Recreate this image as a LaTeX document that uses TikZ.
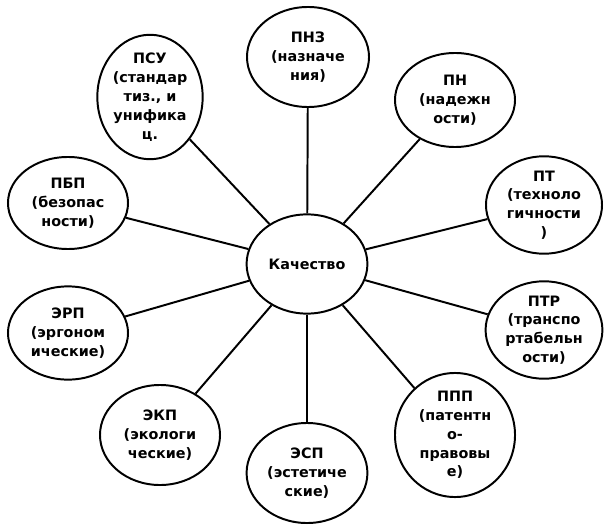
\documentclass[tikz,border=0pt]{standalone}
\usepackage{fontspec}
\setmainfont{DejaVu Sans}
\usetikzlibrary{shapes.geometric}

\tikzset{
	bubble/.style={ellipse, draw=black, line width=1.4pt, fill=white, inner sep=0pt,
		minimum width=3cm, minimum height=2.5cm, align=center,
		font=\fontsize{10.2}{13.4}\selectfont\bfseries},
	spoke/.style={line width=1.4pt}
}

\begin{document}
\begin{tikzpicture}[x=0.025cm, y=-0.025cm]
		\useasboundingbox[fill=white] (0, 0) rectangle (604, 525);

		\node[bubble, minimum width=3.02cm, minimum height=2.48cm] (q) at (307, 264) {Качество};

		\node[bubble, minimum width=3.05cm] (pnz) at (308, 57) {ПНЗ\\(назначе\\ния)};
		\node[bubble, minimum width=2.5cm, minimum height=2.62cm] (psu) at (150, 97) {ПСУ\\(стандар\\тиз., и\\унифика\\ц.};
		\node[bubble, minimum height=2.3cm] (pbp) at (68, 203) {ПБП\\(безопас\\ности)};
		\node[bubble, minimum height=2.33cm] (erp) at (68, 333) {ЭРП\\(эргоном\\ические)};
		\node[bubble] (ekp) at (160, 435) {ЭКП\\(экологи\\ческие)};
		\node[bubble, minimum width=3.02cm] (esp) at (307, 473) {ЭСП\\(эстетиче\\ские)};
		\node[bubble] (ppp) at (455, 435) {ППП\\(патентн\\о-\\правовы\\е)};
		\node[bubble, minimum width=2.92cm, minimum height=2.33cm] (ptr) at (544, 330) {ПТР\\(транспо\\ртабельн\\ости)};
		\node[bubble, minimum width=2.9cm, minimum height=2.25cm] (pt) at (544, 205) {ПТ\\(техноло\\гичности\\)};
		\node[bubble, minimum height=2.35cm] (pn) at (455, 100) {ПН\\(надежн\\ости)};

		% spokes from the centre
		\foreach \n in {pnz, psu, pbp, erp, ekp, esp, ppp, ptr, pt, pn} {
			\draw[spoke] (q) -- (\n);
		}
	\end{tikzpicture}
\end{document}
